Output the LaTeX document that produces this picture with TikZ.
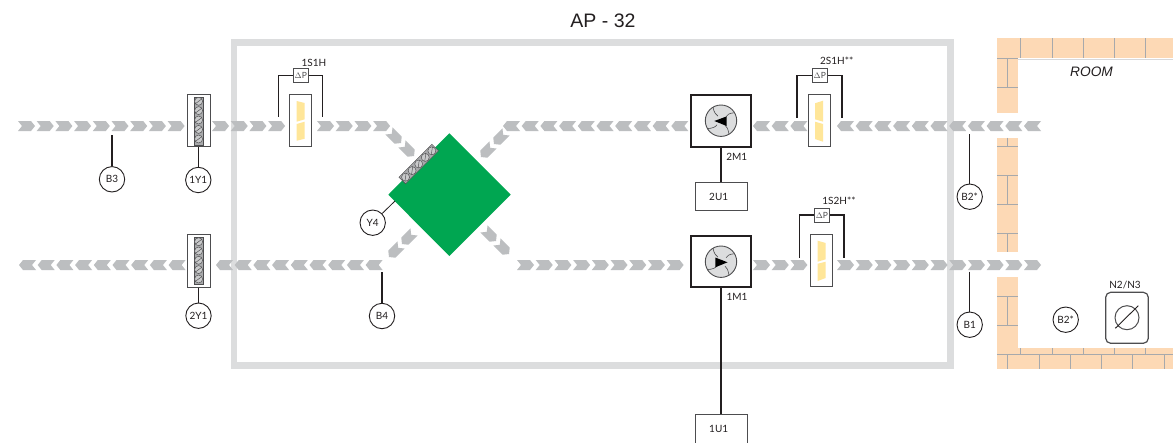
\documentclass[tikz,border=0pt]{standalone}
\usepackage{fontspec}
\setmainfont{Liberation Sans}
\newfontfamily\lblfont{Lato}
\definecolor{chevgray}{HTML}{BCBEC0}
\definecolor{framegray}{HTML}{DCDDDE}
\definecolor{brick}{HTML}{FDD9B5}
\definecolor{seam}{HTML}{A7A9AC}
\definecolor{inkblack}{HTML}{231F20}
\definecolor{inkgray}{HTML}{4D4D4F}
\definecolor{hxgreen}{HTML}{00A651}
\definecolor{slotyellow}{HTML}{FFE699}
\definecolor{fangray}{HTML}{DCDDDE}
\definecolor{stripgray}{HTML}{A8A9AB}
\definecolor{screwgray}{HTML}{C9CACB}
\tikzset{
  x=1pt,y=-1pt,
  lbl/.style={font=\lblfont\fontsize{10}{11}\selectfont,text=inkblack,inner sep=0pt},
  probe/.style={circle,draw=inkblack,line width=0.9pt,fill=white,minimum size=25.4pt,inner sep=0pt,font=\lblfont\fontsize{10}{11}\selectfont,text=inkblack},
  wire/.style={draw=inkblack,line width=1.5pt},
  thinwire/.style={draw=inkblack,line width=0.8pt},
  unitbox/.style={draw=inkgray,line width=0.9pt,fill=white,inner sep=0pt,font=\lblfont\fontsize{10}{11}\selectfont,text=inkblack},
  motorbox/.style={draw=inkblack,line width=1.8pt,fill=white,inner sep=0pt},
  tallbox/.style={draw=inkgray,line width=1pt,fill=white,inner sep=0pt},
  dpbox/.style={draw=inkgray,line width=1.2pt,fill=white,inner sep=0pt,minimum width=15pt,minimum height=14pt,font=\lblfont\fontsize{8.5}{9}\selectfont,text=inkgray},
  wallfill/.style={fill=brick,draw=none},
  wallseam/.style={draw=seam,line width=0.7pt},
  chevfill/.style={fill=chevgray,draw=none},
  stripfill/.style={fill=stripgray,draw=inkgray,line width=0.4pt},
  screwmark/.style={draw=inkgray,line width=0.45pt},
}
\newcommand{\chevat}[3]{\fill[chevfill,shift={(#1,#2)},rotate=#3] (-8.5,5) -- (4.5,5) -- (8.5,0) -- (4.5,-5) -- (-8.5,-5) -- (-4.5,0) -- cycle;}
\newcommand{\chevrow}[4]{\foreach \ci in {1,...,#3}{\pgfmathsetmacro{\cx}{#1+8.5+18.7*(\ci-1)}\chevat{\cx}{#2}{#4}}}
\newcommand{\screwat}[2]{\draw[screwmark,fill=screwgray] (#1,#2) circle[radius=4]; \draw[screwmark,shift={(#1,#2)}] (-3.2,2.4) -- (3.2,-2.4);}
\newcommand{\fanblades}[2]{%
  \draw[inkgray,line width=0.6pt,shift={(#1,#2)}]
    (-8,-13.5) .. controls (-7,-8) and (-5,-6) .. (-3,-4.5)
    (13.5,-8) .. controls (8,-7.5) and (6,-6) .. (5,-4)
    (8,13.5) .. controls (7,8) and (6,6) .. (4,4.5)
    (-13.5,8) .. controls (-8,7.5) and (-5,6) .. (-4,4);}
\begin{document}
\begin{tikzpicture}
\useasboundingbox (0,0) rectangle (1173,442);
\fill[white] (0,0) rectangle (1173,442);

% enclosure
\draw[framegray,line width=6.5pt] (234,42.5) rectangle (950.5,365.5);
\node[font=\fontsize{19.5}{21}\selectfont,text=inkblack,inner sep=0pt] (title) at (603,21) {AP - 32};

% brick walls
\fill[wallfill] (997,38.3) rectangle (1173,58.3);
\fill[wallfill] (997,58.3) rectangle (1017.7,112.7);
\fill[wallfill] (997,137.7) rectangle (1017.7,251.7);
\fill[wallfill] (997,276.7) rectangle (1017.7,369);
\fill[wallfill] (997,348.3) rectangle (1173,369);
\draw[wallseam] (1020.7,38.3)--(1020.7,58.3) (1052.7,38.3)--(1052.7,58.3) (1083.7,38.3)--(1083.7,58.3) (1114.7,38.3)--(1114.7,58.3) (1145.7,38.3)--(1145.7,58.3);
\draw[wallseam] (997,58.3)--(1017.7,58.3);
\draw[seam!45,line width=0.6pt] (1017.7,58.8)--(1173,58.8);
\draw[wallseam] (1007.7,58.3)--(1007.7,87.3) (997,87.3)--(1017.7,87.3);
\draw[wallseam] (1007.7,137.7)--(1007.7,146) (997,146)--(1017.7,146) (997,175.3)--(1017.7,175.3) (1007.7,175.3)--(1007.7,204.3) (997,204.3)--(1017.7,204.3) (997,233.3)--(1017.7,233.3) (1007.7,233.3)--(1007.7,251.7);
\draw[wallseam] (997,296)--(1017.7,296) (1007.7,296)--(1007.7,325) (997,325)--(1017.7,325);
\draw[wallseam] (997,354.3)--(1173,354.3);
\draw[wallseam] (1020.7,348.3)--(1020.7,354.3) (1052.7,348.3)--(1052.7,354.3) (1083.7,348.3)--(1083.7,354.3) (1114.7,348.3)--(1114.7,354.3) (1145.7,348.3)--(1145.7,354.3);
\draw[wallseam] (1007.7,354.3)--(1007.7,369) (1039.3,354.3)--(1039.3,369) (1070.7,354.3)--(1070.7,369) (1101.7,354.3)--(1101.7,369) (1132.7,354.3)--(1132.7,369) (1164,354.3)--(1164,369);
\node[font=\itshape\fontsize{13.7}{15}\selectfont,text=inkblack,inner sep=0pt] (room) at (1091.5,72) {ROOM};

% air-flow chevrons: top row
\chevrow{18}{126}{9}{0}
\chevrow{212}{126}{4}{0}
\chevrow{317}{126}{4}{0}
\chevrow{837}{126}{11}{180}
\chevrow{753}{126}{3}{180}
\chevrow{503}{126}{10}{180}
% bottom row
\chevrow{19}{265}{9}{180}
\chevrow{216}{265}{9}{180}
\chevrow{517}{265}{9}{0}
\chevrow{753}{265}{3}{0}
\chevrow{837}{265}{11}{0}
% diagonals
\chevat{395}{137}{-45}
\chevat{408}{150}{-45}
\chevat{500}{138}{225}
\chevat{487}{151}{225}
\chevat{408}{238}{225}
\chevat{395}{251}{225}
\chevat{490}{235}{-45}
\chevat{503}{248}{-45}

% heat exchanger
\coordinate (hxleft) at (388.3,194.7);
\coordinate (hxport) at (395,201);
\fill[hxgreen] (449.3,133.3) -- (510.7,194.7) -- (449.3,256) -- (388.3,194.7) -- cycle;
\begin{scope}[shift={(418.7,164)},rotate=45]
  \fill[stripfill] (-23.3,-4.7) rectangle (23.3,4.7);
  \foreach \sx in {-18.6,-9.3,0,9.3,18.6}{\screwat{\sx}{0}}
\end{scope}

% dampers
\node[tallbox,minimum width=22.4pt,minimum height=52.4pt] (d1) at (198.9,120.5) {};
\fill[stripfill] (194,96.7) rectangle (203.3,145);
\foreach \sy in {101.3,110.6,120,129.4,139}{\screwat{198.6}{\sy}}
\node[tallbox,minimum width=22.4pt,minimum height=52.4pt] (d2) at (198.9,261) {};
\fill[stripfill] (194,237.5) rectangle (203.3,284.5);
\foreach \sy in {241.7,251,260.3,269.6,279}{\screwat{198.6}{\sy}}

% probes
\node[probe] (B3) at (112,179.3) {B3};
\coordinate (B3p) at (112,135);
\draw[wire] (B3p) -- (B3);
\node[probe] (Y1a) at (198.3,180) {1Y1};
\draw[wire] (d1.south -| Y1a) -- (Y1a);
\node[probe] (Y1b) at (198.5,315.7) {2Y1};
\draw[wire] (d2.south -| Y1b) -- (Y1b);
\node[probe] (B4) at (382,316) {B4};
\coordinate (B4p) at (382,272);
\draw[wire] (B4p) -- (B4);
\node[probe] (Y4) at (372.7,222.7) {Y4};
\draw[thinwire] (Y4) -- (hxport);
\node[probe] (B2a) at (969.7,196.7) {B2*};
\coordinate (B2p) at (969.7,134);
\draw[wire] (B2p) -- (B2a);
\node[probe] (B1) at (969.7,324.7) {B1};
\coordinate (B1p) at (969.7,271.7);
\draw[wire] (B1p) -- (B1);
\node[probe] (B2b) at (1065.7,319.7) {B2*};

% pressure switch 1S1H
\node[tallbox,minimum width=22.4pt,minimum height=52.4pt] (s1) at (300.5,120.5) {};
\fill[slotyellow] (296.7,101) -- (304.7,103) -- (304.7,119.3) -- (296.7,121.7) -- cycle
                  (296.7,124) -- (304.7,121.7) -- (304.7,138.7) -- (296.7,140.7) -- cycle;
\node[dpbox] (dp1) at (300.8,75.3) {$\Delta$P};
\coordinate (s1l) at (278.3,116.7);
\coordinate (s1r) at (322.7,116.7);
\draw[wire] (s1l) |- (dp1);
\draw[wire] (s1r) |- (dp1);
\node[lbl] (t1) at (314,62.7) {1S1H};

% pressure switch 2S1H
\node[tallbox,minimum width=22.4pt,minimum height=51.7pt] (s2) at (819.5,120.8) {};
\fill[slotyellow] (823,100.7) -- (815,103.3) -- (815,119.3) -- (823,121.7) -- cycle
                  (823,124) -- (815,121.7) -- (815,139) -- (823,141.7) -- cycle;
\node[dpbox] (dp2) at (819.8,75.3) {$\Delta$P};
\coordinate (s2l) at (797,117.7);
\coordinate (s2r) at (842,117.7);
\draw[wire] (s2l) |- (dp2);
\draw[wire] (s2r) |- (dp2);
\node[lbl] (t2) at (836.7,61) {2S1H**};

% pressure switch 1S2H
\node[tallbox,minimum width=22pt,minimum height=52.4pt] (s3) at (821.7,260.5) {};
\fill[slotyellow] (817.7,240.7) -- (825.7,243) -- (825.7,259.3) -- (817.7,261.7) -- cycle
                  (817.7,263.7) -- (825.7,261.7) -- (825.7,278) -- (817.7,281) -- cycle;
\node[dpbox] (dp3) at (822,215.2) {$\Delta$P};
\coordinate (s3l) at (799.3,257.7);
\coordinate (s3r) at (844,257.7);
\draw[wire] (s3l) |- (dp3);
\draw[wire] (s3r) |- (dp3);
\node[lbl] (t3) at (839,200.7) {1S2H**};

% fans
\node[motorbox,minimum width=60.3pt,minimum height=51.7pt] (m2) at (720.8,120.8) {};
\fill[fangray] (721,120.7) circle[radius=15.7];
\fanblades{721}{120.7}
\draw[inkgray,line width=0.9pt] (721,120.7) circle[radius=15.7];
\fill[black] (714.3,121) -- (726.7,116.4) -- (726.7,126) -- cycle;
\node[lbl] (t2m) at (736.7,157.3) {2M1};
\node[unitbox,minimum width=51.6pt,minimum height=28pt] (u2) at (721.5,196.7) {};
\node[lbl] (t2u) at (718.7,197) {2U1};
\draw[wire] (m2.south) -- (m2.south |- u2.north);

\node[motorbox,minimum width=60.3pt,minimum height=51pt] (m1) at (720.8,261.2) {};
\fill[fangray] (721,261.7) circle[radius=15.7];
\fanblades{721}{261.7}
\draw[inkgray,line width=0.9pt] (721,261.7) circle[radius=15.7];
\fill[black] (727.5,262.3) -- (715.3,257.5) -- (715.3,267.3) -- cycle;
\node[lbl] (t1m) at (737,297.3) {1M1};
\node[unitbox,minimum width=51.6pt,minimum height=29pt] (u1) at (721.5,428.5) {};
\node[lbl] (t1u) at (718.7,429) {1U1};
\draw[wire] (m1.south) -- (m1.south |- u1.north);

% room unit
\node[draw=inkgray,line width=1.2pt,rounded corners=5pt,fill=white,minimum width=42.6pt,minimum height=51pt,inner sep=0pt] (n) at (1127,317.8) {};
\node[circle,draw=inkgray,line width=1pt,minimum size=24pt,inner sep=0pt] (nc) at (1127,317.7) {};
\coordinate (na) at (1115.3,328.3);
\coordinate (nb) at (1138.3,305.7);
\draw[inkblack,line width=0.9pt] (na) -- (nb);
\node[lbl] (nt) at (1125,285) {N2/N3};
\end{tikzpicture}
\end{document}
